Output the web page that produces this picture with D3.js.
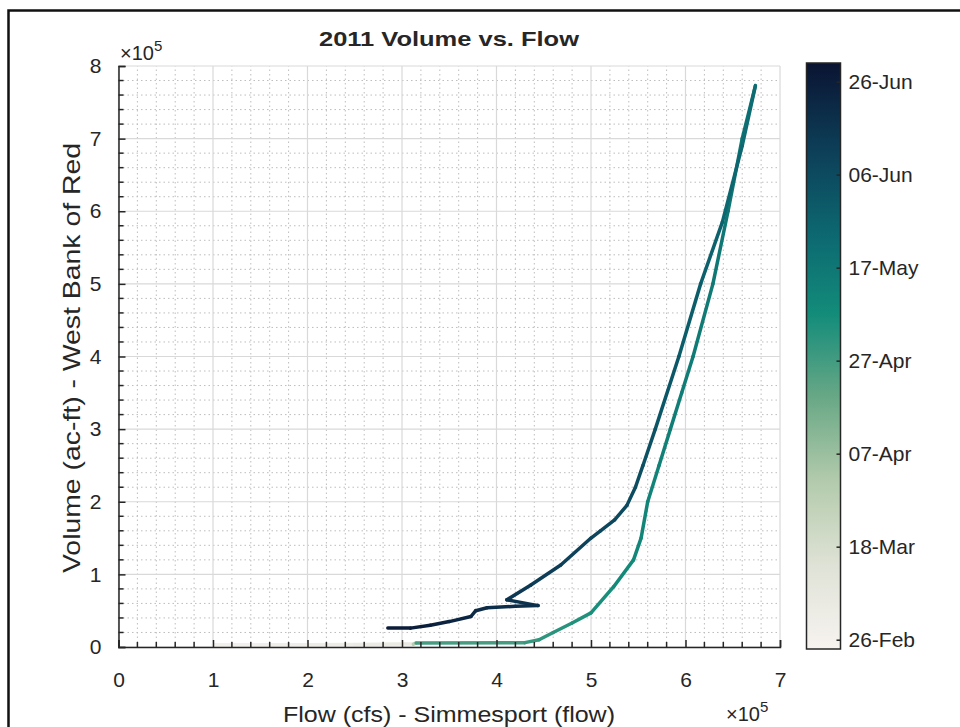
<!DOCTYPE html>
<html>
<head>
<meta charset="utf-8">
<script src="https://cdn.jsdelivr.net/npm/d3@7"></script>
<style>
  body { margin: 0; background: #fff; }
  svg text { font-family: "Liberation Sans", Arial, Helvetica, sans-serif; fill: #262626; }
</style>
</head>
<body>
<div id="chart"></div>
<script>
// values are in units of 1e5 (flow in cfs, volume in ac-ft)
const flowValues = [1.0, 1.5, 2.0, 2.5, 3.0, 3.12,
  3.15, 4.3, 4.45, 4.6, 4.8, 5.0, 5.24, 5.45, 5.53, 5.6, 5.72, 5.84, 5.96, 6.08, 6.29, 6.45, 6.6, 6.74,
  6.6, 6.39, 6.16, 5.93, 5.68, 5.55, 5.47, 5.38, 5.25, 5.1, 5.0, 4.68, 4.36, 4.11, 4.44, 4.2, 3.9, 3.78, 3.73, 3.5, 3.3, 3.09, 2.85];
const volumeValues = [0.03, 0.03, 0.03, 0.035, 0.04, 0.04,
  0.055, 0.06, 0.1, 0.2, 0.33, 0.47, 0.83, 1.2, 1.5, 2.0, 2.5, 3.0, 3.5, 4.0, 5.0, 6.0, 7.0, 7.73,
  6.9, 5.85, 5.0, 4.0, 3.0, 2.5, 2.2, 1.95, 1.75, 1.6, 1.5, 1.13, 0.85, 0.65, 0.57, 0.56, 0.54, 0.5, 0.42, 0.35, 0.3, 0.26, 0.26];
const dates = ["2011-02-26", "2011-02-28", "2011-03-02", "2011-03-04", "2011-03-06", "2011-03-07",
  "2011-04-24", "2011-04-29", "2011-04-30", "2011-05-02", "2011-05-03", "2011-05-05", "2011-05-07", "2011-05-09",
  "2011-05-10", "2011-05-11", "2011-05-12", "2011-05-13", "2011-05-14", "2011-05-15", "2011-05-16", "2011-05-17",
  "2011-05-18", "2011-05-20",
  "2011-05-23", "2011-05-26", "2011-05-28", "2011-05-30", "2011-06-02", "2011-06-04", "2011-06-05", "2011-06-06",
  "2011-06-07", "2011-06-08", "2011-06-09", "2011-06-11", "2011-06-13", "2011-06-15", "2011-06-17", "2011-06-18",
  "2011-06-19", "2011-06-20", "2011-06-21", "2011-06-23", "2011-06-24", "2011-06-26", "2011-06-28"];

const xTicks = [0, 1, 2, 3, 4, 5, 6, 7];
const yTicks = [0, 1, 2, 3, 4, 5, 6, 7, 8];
const colorRange = ["2011-02-24", "2011-06-30"];
const colorTicks = ["2011-02-26", "2011-03-18", "2011-04-07", "2011-04-27", "2011-05-17", "2011-06-06", "2011-06-26"];
// colormap stops (bottom -> top)
const colorStops = ["#f7f3f0", "#dfe2d6", "#b3cbac", "#69a886", "#138c7a", "#0c6670", "#0d3d57", "#0a1432"];

const W = 960, H = 727;
const parse = d3.timeParse("%Y-%m-%d");
const fmt = d3.timeFormat("%d-%b");

const svg = d3.select("#chart").append("svg")
    .attr("width", W).attr("height", H);

// outer frame of the screenshot
svg.append("path")
    .attr("d", `M8.5,${H} L8.5,10.5 L${W},10.5`)
    .attr("fill", "none").attr("stroke", "#111").attr("stroke-width", 2.5);

const x = d3.scaleLinear().domain([0, 7]).range([118.5, 780]);
const y = d3.scaleLinear().domain([0, 8]).range([647, 66]);

const cScale = d3.scaleTime().domain(colorRange.map(parse)).range([0, 1]);
const cInterp = d3.piecewise(d3.interpolateRgb, colorStops);
const color = d => cInterp(Math.max(0, Math.min(1, cScale(d))));

// grid
const g = svg.append("g");
const minorX = d3.range(0, 7.001, 0.2).filter(v => Math.abs(v - Math.round(v)) > 1e-6);
const minorY = d3.range(0, 8.001, 0.2).filter(v => Math.abs(v - Math.round(v)) > 1e-6);

g.selectAll("line.minx").data(minorX).join("line")
    .attr("x1", d => x(d)).attr("x2", d => x(d)).attr("y1", y(0)).attr("y2", y(8))
    .attr("stroke", "#bdbdbd").attr("stroke-width", 1).attr("stroke-dasharray", "1.5,3");
g.selectAll("line.miny").data(minorY).join("line")
    .attr("y1", d => y(d)).attr("y2", d => y(d)).attr("x1", x(0)).attr("x2", x(7))
    .attr("stroke", "#bdbdbd").attr("stroke-width", 1).attr("stroke-dasharray", "1.5,3");
g.selectAll("line.majx").data(xTicks).join("line")
    .attr("x1", d => x(d)).attr("x2", d => x(d)).attr("y1", y(0)).attr("y2", y(8))
    .attr("stroke", "#d9d9d9").attr("stroke-width", 1.2);
g.selectAll("line.majy").data(yTicks).join("line")
    .attr("y1", d => y(d)).attr("y2", d => y(d)).attr("x1", x(0)).attr("x2", x(7))
    .attr("stroke", "#d9d9d9").attr("stroke-width", 1.2);

// the line, coloured by date
const pts = flowValues.map((f, i) => ({ f: f, v: volumeValues[i], t: parse(dates[i]) }));
const segs = d3.pairs(pts);
svg.append("g").selectAll("line").data(segs).join("line")
    .attr("x1", d => x(d[0].f)).attr("y1", d => y(d[0].v))
    .attr("x2", d => x(d[1].f)).attr("y2", d => y(d[1].v))
    .attr("stroke", d => color(new Date((+d[0].t + +d[1].t) / 2)))
    .attr("stroke-width", 3.5).attr("stroke-linecap", "round");

// axes
const xAxis = svg.append("g").attr("transform", `translate(0,${y(0)})`)
    .call(d3.axisBottom(x).tickValues(xTicks).tickSize(-7).tickPadding(25).tickFormat(d3.format("d")));
const yAxis = svg.append("g").attr("transform", `translate(${x(0)},0)`)
    .call(d3.axisLeft(y).tickValues(yTicks).tickSize(-7).tickPadding(17).tickFormat(d3.format("d")));
[xAxis, yAxis].forEach(a => {
  a.select(".domain").attr("stroke", "#262626").attr("stroke-width", 1.5);
  a.selectAll(".tick line").attr("stroke", "#262626").attr("stroke-width", 1.5);
  a.selectAll("text").attr("font-size", 21).attr("fill", "#262626");
});
xAxis.selectAll(".minor").data(minorX).join("line").attr("class", "minor")
    .attr("x1", d => x(d)).attr("x2", d => x(d)).attr("y1", 0).attr("y2", -5)
    .attr("stroke", "#262626").attr("stroke-width", 1.5);
yAxis.selectAll(".minor").data(minorY).join("line").attr("class", "minor")
    .attr("y1", d => y(d)).attr("y2", d => y(d)).attr("x1", 0).attr("x2", 5)
    .attr("stroke", "#262626").attr("stroke-width", 1.5);

// exponent labels
const expY = svg.append("text").attr("x", 120).attr("y", 60).attr("font-size", 20);
expY.append("tspan").text("\u00d710");
expY.append("tspan").attr("dy", -9).attr("font-size", 15).text("5");
const expX = svg.append("text").attr("x", 726).attr("y", 721).attr("font-size", 20);
expX.append("tspan").text("\u00d710");
expX.append("tspan").attr("dy", -9).attr("font-size", 15).text("5");

// title and axis labels
svg.append("text").attr("x", 449).attr("y", 46).attr("text-anchor", "middle")
    .attr("font-size", 21).attr("font-weight", "bold").attr("fill", "#111")
    .attr("textLength", 260).attr("lengthAdjust", "spacingAndGlyphs").text("2011 Volume vs. Flow");
svg.append("text").attr("x", 449).attr("y", 722).attr("text-anchor", "middle")
    .attr("font-size", 22).attr("textLength", 332).attr("lengthAdjust", "spacingAndGlyphs")
    .text("Flow (cfs) - Simmesport (flow)");
svg.append("text").attr("transform", "translate(80,358) rotate(-90)").attr("text-anchor", "middle")
    .attr("font-size", 24).attr("textLength", 430).attr("lengthAdjust", "spacingAndGlyphs")
    .text("Volume (ac-ft) - West Bank of Red");

// colorbar
const cbX = 806.5, cbW = 34;
const cb = d3.scaleTime().domain(colorRange.map(parse)).range([649, 63]);
const defs = svg.append("defs");
const grad = defs.append("linearGradient").attr("id", "cbgrad")
    .attr("x1", 0).attr("x2", 0).attr("y1", 1).attr("y2", 0);
grad.selectAll("stop").data(colorStops).join("stop")
    .attr("offset", (d, i) => i / (colorStops.length - 1)).attr("stop-color", d => d);
svg.append("rect").attr("x", cbX).attr("y", cb.range()[1]).attr("width", cbW)
    .attr("height", cb.range()[0] - cb.range()[1]).attr("fill", "url(#cbgrad)")
    .attr("stroke", "#262626").attr("stroke-width", 1.5);
const cAxis = svg.append("g").attr("transform", `translate(${cbX + cbW},0)`)
    .call(d3.axisRight(cb).tickValues(colorTicks.map(parse)).tickSize(-4).tickPadding(8).tickFormat(fmt));
cAxis.select(".domain").remove();
cAxis.selectAll(".tick line").attr("stroke", "#262626").attr("stroke-width", 1.5);
cAxis.selectAll("text").attr("font-size", 21).attr("fill", "#262626");
</script>
</body>
</html>
